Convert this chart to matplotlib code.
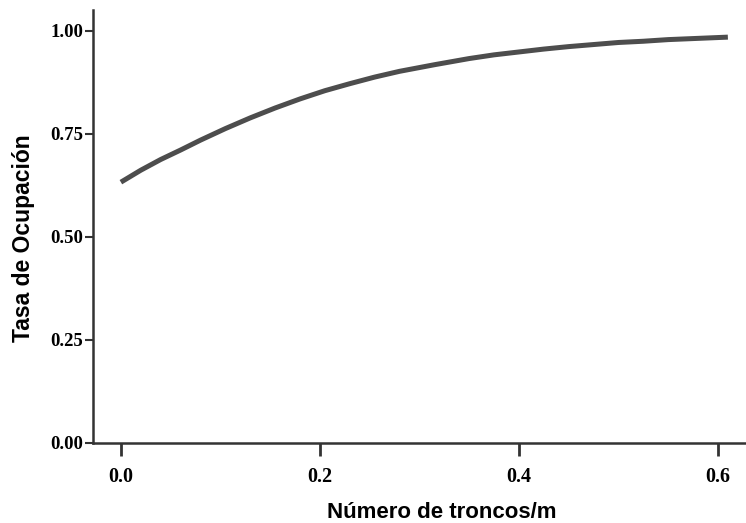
import numpy as np
import matplotlib.pyplot as plt

# values
troncos = [0.0, 0.02, 0.04, 0.06, 0.08, 0.105, 0.13, 0.155, 0.18, 0.205, 0.23, 0.255, 0.28,
           0.315, 0.35, 0.375, 0.40, 0.425, 0.45, 0.475, 0.50, 0.525, 0.55, 0.58, 0.61]
ocupacion = [0.633, 0.662, 0.688, 0.711, 0.735, 0.763, 0.789, 0.813, 0.835, 0.855, 0.872,
             0.888, 0.902, 0.918, 0.933, 0.942, 0.949, 0.956, 0.962, 0.967, 0.972, 0.975,
             0.979, 0.982, 0.985]

x_ticks = [0.0, 0.2, 0.4, 0.6]
x_labels = ['0.0', '0.2', '0.4', '0.6']
y_ticks = [0.0, 0.25, 0.5, 0.75, 1.0]
y_labels = ['0.00', '0.25', '0.50', '0.75', '1.00']

fig = plt.figure(figsize=(7.46, 5.23), dpi=100)
ax = fig.add_axes([0.1247, 0.153, 0.875, 0.828])

ax.plot(troncos, ocupacion, color='#4d4d4d', linewidth=3.6, solid_capstyle='butt')

ax.set_xlim(-0.028, 0.628)
ax.set_ylim(0, 1.051)

ax.set_xticks(x_ticks)
ax.set_xticklabels(x_labels, fontfamily='Liberation Serif', fontweight='bold', fontsize=14.5)
ax.set_yticks(y_ticks)
ax.set_yticklabels(y_labels, fontfamily='Liberation Serif', fontweight='bold', fontsize=13.5)

ax.tick_params(axis='x', length=9, width=2, color='#333333', pad=8)
ax.tick_params(axis='y', length=6, width=1.5, color='#333333', pad=1)

for side in ['top', 'right']:
    ax.spines[side].set_visible(False)
for side in ['left', 'bottom']:
    ax.spines[side].set_linewidth(1.8)
    ax.spines[side].set_color('#333333')

ax.set_xlabel('Número de troncos/m', fontfamily='Liberation Sans', fontweight='bold', fontsize=16)
ax.xaxis.set_label_coords(0.534, -0.137)
ax.set_ylabel('Tasa de Ocupación', fontfamily='Liberation Sans', fontweight='bold', fontsize=16.5)
ax.yaxis.set_label_coords(-0.089, 0.473)

fig.savefig('out.png', dpi=100)
